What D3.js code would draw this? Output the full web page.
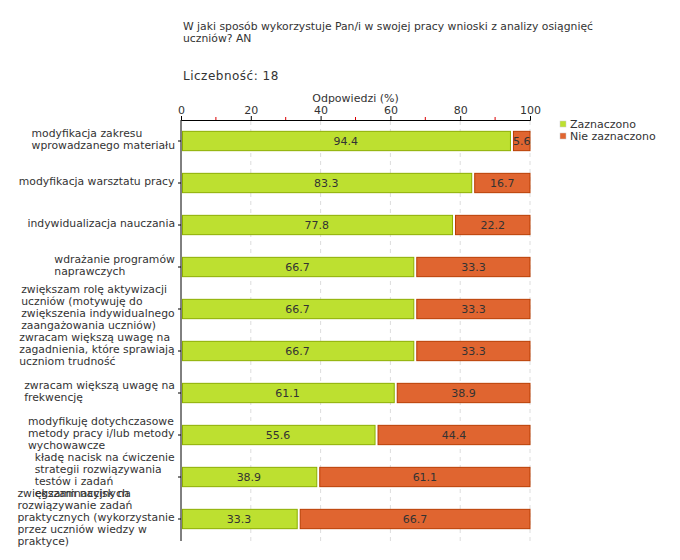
<!DOCTYPE html>
<html><head><meta charset="utf-8">
<script src="https://cdn.jsdelivr.net/npm/d3@7"></script>
<style>body{margin:0;background:#fff}svg{display:block}text{font-family:"DejaVu Sans",Verdana,sans-serif;fill:#333}</style>
</head><body>
<script>
const title = ["W jaki sposób wykorzystuje Pan/i w swojej pracy wnioski z analizy osiągnięć", "uczniów? AN"];
const countLabel = "Liczebność: 18";
const axisTitle = "Odpowiedzi (%)";
const categories = [
  "modyfikacja zakresu\nwprowadzanego materiału",
  "modyfikacja warsztatu pracy",
  "indywidualizacja nauczania",
  "wdrażanie programów\nnaprawczych",
  "zwiększam rolę aktywizacji\nuczniów (motywuję do\nzwiększenia indywidualnego\nzaangażowania uczniów)",
  "zwracam większą uwagę na\nzagadnienia, które sprawiają\nuczniom trudność",
  "zwracam większą uwagę na\nfrekwencję",
  "modyfikuję dotychczasowe\nmetody pracy i/lub metody\nwychowawcze",
  "kładę nacisk na ćwiczenie\nstrategii rozwiązywania\ntestów i zadań\negzaminacyjnych",
  "zwiększam nacisk na\nrozwiązywanie zadań\npraktycznych (wykorzystanie\nprzez uczniów wiedzy w\npraktyce)"
];
const seriesNames = ["Zaznaczono", "Nie zaznaczono"];
const checked = [94.4, 83.3, 77.8, 66.7, 66.7, 66.7, 61.1, 55.6, 38.9, 33.3];
const unchecked = [5.6, 16.7, 22.2, 33.3, 33.3, 33.3, 38.9, 44.4, 61.1, 66.7];
const xTicks = [0, 20, 40, 60, 80, 100];
const xMinorTicks = [10, 30, 50, 70, 90];
const fills = ["#bde030", "#e06530"];
const strokes = ["#8cae00", "#b83c00"];

const svg = d3.select("body").append("svg").attr("width", 680).attr("height", 560);
const x = d3.scaleLinear().domain([0, 100]).range([181, 530]);
const y = d3.scaleBand().domain(categories).range([120, 540]).paddingInner(0.54).paddingOuter(0.27);

// title
svg.append("text").attr("y", 30).style("font-size", "10.8px")
  .selectAll("tspan").data(title).join("tspan").attr("x", 183).attr("dy", (d, i) => i ? 12 : 0).text(d => d);
svg.append("text").attr("x", 183).attr("y", 80).style("font-size", "12px").style("letter-spacing", "0.5px")
  .attr("fill", "#444").text(countLabel);
svg.append("text").attr("x", x(50)).attr("y", 102).attr("text-anchor", "middle").style("font-size", "11px").text(axisTitle);

// grid
svg.append("g").selectAll("line").data(xTicks.slice(1)).join("line")
  .attr("x1", d => x(d)).attr("x2", d => x(d)).attr("y1", 121).attr("y2", 541)
  .attr("stroke", "#ddd").attr("stroke-dasharray", "4,4");

// x axis
const xAxis = svg.append("g").attr("transform", "translate(0,120)")
  .call(d3.axisTop(x).tickValues(xTicks).tickSize(4).tickPadding(2).tickFormat(d3.format("d")));
xAxis.select(".domain").attr("stroke", "#000");
xAxis.selectAll("text").style("font-size", "11px").attr("fill", "#333");
svg.append("g").selectAll("line").data(xMinorTicks).join("line")
  .attr("x1", d => x(d)).attr("x2", d => x(d)).attr("y1", 117).attr("y2", 120).attr("stroke", "#d00");

// y axis
const yAxis = svg.append("g").attr("transform", "translate(181,0)")
  .call(d3.axisLeft(y).tickSize(3).tickFormat(""));
yAxis.select(".domain").attr("d", "M0,120V541").attr("stroke", "#000");

// labels
const lab = svg.append("g");
categories.forEach(c => {
  const lines = c.split("\n");
  const t = lab.append("text").style("font-size", "10.8px");
  const cy = y(c) + y.bandwidth() / 2;
  const y0 = cy - (lines.length - 1) * 6 + 2;
  lines.forEach((l, i) => t.append("tspan").attr("x", 0).attr("y", y0 + i * 12).text(l));
  const w = t.node().getBBox().width;
  t.selectAll("tspan").attr("x", Math.max(2, 175 - w));
});

// bars
const bars = svg.append("g");
categories.forEach((c, i) => {
  const by = y(c), bh = y.bandwidth();
  bars.append("rect").attr("x", x(0) + 1.5).attr("y", by).attr("width", x(checked[i]) - x(0) - 1.5).attr("height", bh)
    .attr("fill", fills[0]).attr("stroke", strokes[0]);
  bars.append("rect").attr("x", x(checked[i]) + 3).attr("y", by).attr("width", x(100) - x(checked[i]) - 3).attr("height", bh)
    .attr("fill", fills[1]).attr("stroke", strokes[1]);
  bars.append("text").attr("x", (x(0) + x(checked[i])) / 2).attr("y", by + bh / 2 + 4).attr("text-anchor", "middle")
    .style("font-size", "11px").attr("fill", "#111").text(d3.format(".1f")(checked[i]));
  bars.append("text").attr("x", (x(checked[i]) + 3 + x(100)) / 2).attr("y", by + bh / 2 + 4).attr("text-anchor", "middle")
    .style("font-size", "11px").attr("fill", "#111").text(d3.format(".1f")(unchecked[i]));
});

// legend
const leg = svg.append("g");
seriesNames.forEach((n, i) => {
  leg.append("rect").attr("x", 560).attr("y", 121 + i * 12).attr("width", 6).attr("height", 6)
    .attr("fill", fills[i]).attr("stroke", "#ccc").attr("stroke-width", 0.5);
  leg.append("text").attr("x", 570).attr("y", 128 + i * 12).style("font-size", "11px").text(n);
});
</script>
</body></html>
